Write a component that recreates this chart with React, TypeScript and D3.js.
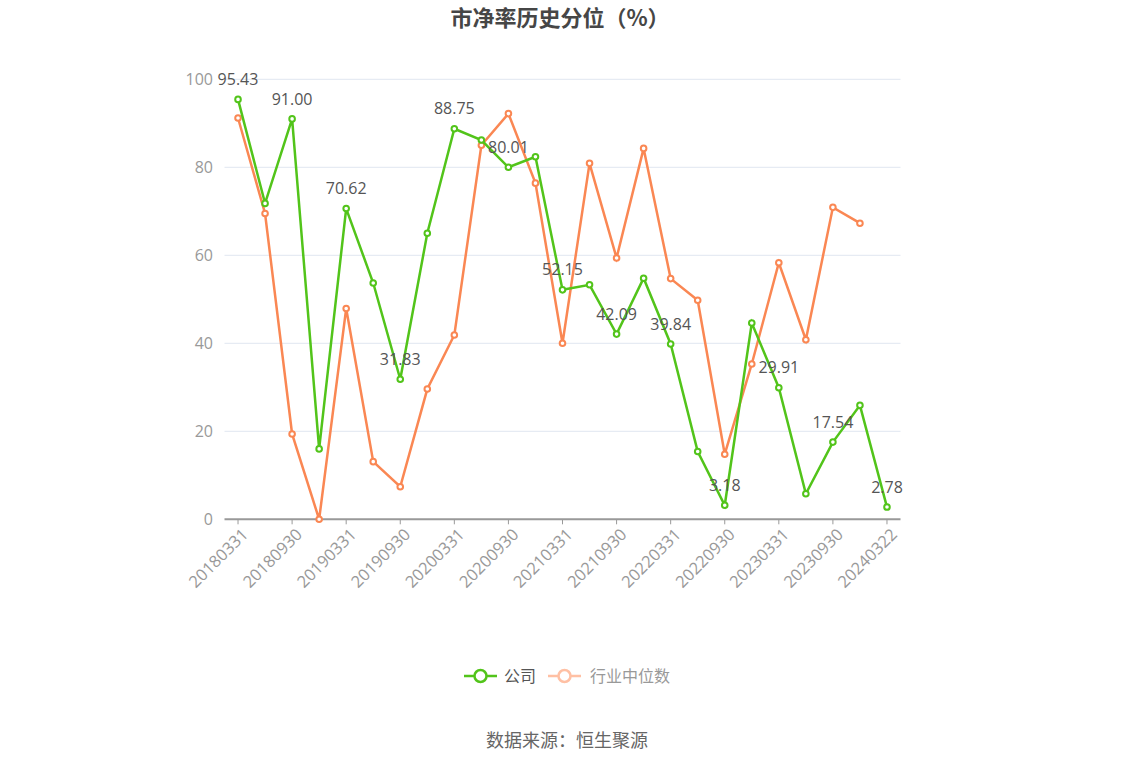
import React from "react";
import * as d3 from "d3";

const categories = [
  "20180331","20180630","20180930","20181231","20190331","20190630","20190930","20191231",
  "20200331","20200630","20200930","20201231","20210331","20210630","20210930","20211231",
  "20220331","20220630","20220930","20221231","20230331","20230630","20230930","20231231","20240322",
];
const companyValues = [
  95.43, 71.8, 91.0, 16.0, 70.62, 53.7, 31.83, 65.0, 88.75, 86.2, 80.01, 82.4, 52.15,
  53.3, 42.09, 54.8, 39.84, 15.4, 3.18, 44.6, 29.91, 5.8, 17.54, 25.9, 2.78,
];
const industryValues: (number | null)[] = [
  91.2, 69.5, 19.4, 0, 47.9, 13.1, 7.4, 29.6, 41.9, 85.0, 92.2, 76.4, 40.0, 80.9, 59.4,
  84.3, 54.7, 49.8, 14.8, 35.3, 58.3, 40.8, 70.9, 67.3, null,
];
const yTicks = [0, 20, 40, 60, 80, 100];
const title = "市净率历史分位（%）";
const legendNames = ["公司", "行业中位数"];
const sourceText = "数据来源：恒生聚源";

const W = 1134, H = 766;
const GREEN = "#52c41a";
const ORANGE = "#fa8753";
const FONT = "'Noto Sans CJK SC', 'Open Sans', sans-serif";
const NUMFONT = "'Open Sans', 'Noto Sans CJK SC', sans-serif";

export default function App() {
  const x = d3.scaleBand<string>().domain(categories).range([224.5, 900.5]);
  const cx = (c: string) => (x(c) as number) + x.bandwidth() / 2;
  const y = d3.scaleLinear().domain([0, 100]).range([519.3, 79.3]);

  const compLine = d3.line<number>().x((_, i) => cx(categories[i])).y((d) => y(d));
  const indLine = d3
    .line<number | null>()
    .defined((d) => d !== null)
    .x((_, i) => cx(categories[i]))
    .y((d) => y(d as number));

  return (
    <svg width={W} height={H} style={{ display: "block", position: "absolute", left: 0, top: 0 }} fontFamily={FONT}>
      <text x={560} y={26} textAnchor="middle" fontSize={22} fontWeight="bold" fill="#464646">{title}</text>
      {yTicks.map((t) => (
        <g key={t}>
          {t > 0 && <line x1={224.5} x2={900.5} y1={y(t)} y2={y(t)} stroke="#e0e6f1" strokeWidth={1} />}
          <text x={213} y={y(t)} dy="0.35em" textAnchor="end" fontSize={16} fill="#999" fontFamily={NUMFONT}>{t}</text>
        </g>
      ))}
      <line x1={224.5} x2={900.5} y1={y(0)} y2={y(0)} stroke="#999" strokeWidth={2} />
      {categories.map((c, i) =>
        i % 2 === 0 ? (
          <g key={c}>
            <line x1={cx(c)} x2={cx(c)} y1={y(0)} y2={y(0) + 5} stroke="#999" strokeWidth={1} />
            <text
              transform={`translate(${cx(c) + 3},${y(0) + 8}) rotate(-45)`}
              textAnchor="end"
              dy="0.7em"
              fontSize={16.5}
              fill="#999"
              fontFamily={NUMFONT}
            >{c}</text>
          </g>
        ) : null
      )}
      <path d={indLine(industryValues) || ""} fill="none" stroke={ORANGE} strokeWidth={2.5} />
      {industryValues.map((v, i) =>
        v === null ? null : (
          <circle key={i} cx={cx(categories[i])} cy={y(v)} r={2.8} fill="#fff" stroke={ORANGE} strokeWidth={2} />
        )
      )}
      <path d={compLine(companyValues) || ""} fill="none" stroke={GREEN} strokeWidth={2.5} />
      {companyValues.map((v, i) => (
        <circle key={i} cx={cx(categories[i])} cy={y(v)} r={2.8} fill="#fff" stroke={GREEN} strokeWidth={2} />
      ))}
      {companyValues.map((v, i) =>
        i % 2 === 0 ? (
          <text key={"l" + i} x={cx(categories[i])} y={y(v) - 20} dy="0.35em" textAnchor="middle" fontSize={16} fill="#555" fontFamily={NUMFONT}>
            {v.toFixed(2)}
          </text>
        ) : null
      )}
      <g>
        <line x1={464} x2={497} y1={676} y2={676} stroke={GREEN} strokeWidth={2.5} />
        <circle cx={480.5} cy={676} r={6} fill="#fff" stroke={GREEN} strokeWidth={2.5} />
        <text x={504} y={676} dy="0.35em" fontSize={16} fill="#555">{legendNames[0]}</text>
        <line x1={548} x2={581} y1={676} y2={676} stroke="#ffc0a4" strokeWidth={2.5} />
        <circle cx={564.5} cy={676} r={6} fill="#fff" stroke="#ffc0a4" strokeWidth={2.5} />
        <text x={590} y={676} dy="0.35em" fontSize={16} fill="#999">{legendNames[1]}</text>
      </g>
      <text x={567} y={741} dy="0.35em" textAnchor="middle" fontSize={18} fill="#666">{sourceText}</text>
    </svg>
  );
}
